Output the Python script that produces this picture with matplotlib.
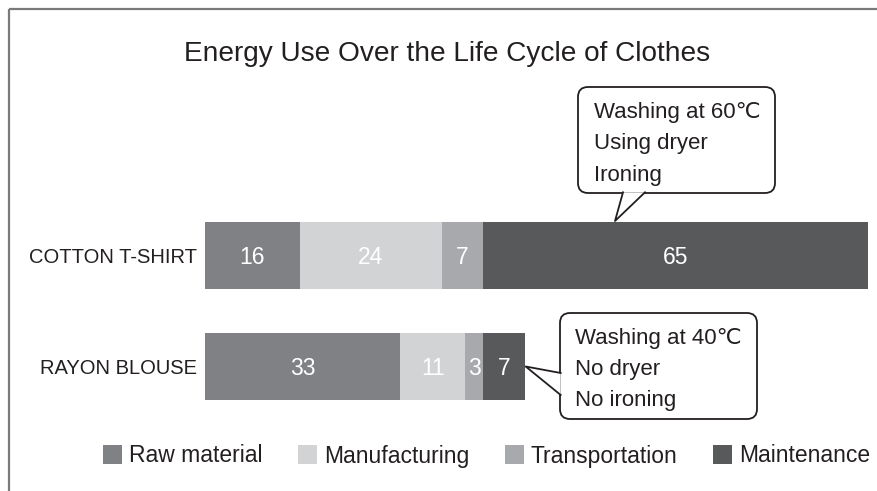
import matplotlib
matplotlib.use('Agg')
import matplotlib.pyplot as plt
import numpy as np
from matplotlib.patches import FancyBboxPatch, Polygon, Patch

# ---------------- data ----------------
categories = ['RAYON BLOUSE', 'COTTON T-SHIRT']
stages = ['Raw material', 'Manufacturing', 'Transportation', 'Maintenance']
raw_material = [33, 16]
manufacturing = [11, 24]
transportation = [3, 7]
maintenance = [7, 65]
colors = ['#808184', '#d1d3d4', '#a7a9ac', '#58595b']
title = 'Energy Use Over the Life Cycle of Clothes'
cotton_notes = ['Washing at 60℃', 'Using dryer', 'Ironing']
rayon_notes = ['Washing at 40℃', 'No dryer', 'No ironing']

W, H = 877, 491
fig = plt.figure(figsize=(W / 100, H / 100), dpi=100)

BASE = ['Liberation Sans', 'DejaVu Sans']
TXT = '#231f20'

series = [raw_material, manufacturing, transportation, maintenance]
totals = np.sum(series, axis=0)

# main axes
ax = fig.add_axes([205 / W, (H - 400) / H, 663 / W, 178 / H])
bar_h = 0.604
ypos = np.arange(len(categories))
left = np.zeros(len(categories))
for vals, col, name in zip(series, colors, stages):
    ax.barh(ypos, vals, left=left, height=bar_h, color=col, label=name, linewidth=0)
    for y, v, l in zip(ypos, vals, left):
        ax.annotate(str(v), (l + v / 2, y), xytext=(0, -5.8), textcoords='offset points',
                    ha='center', va='baseline', color='white', fontsize=16.5, family=BASE)
    left = left + np.array(vals)

ax.set_xlim(0, totals.max())
ax.set_ylim(-bar_h / 2, 1 + bar_h / 2)
ax.set_yticks(ypos, categories)
ax.tick_params(axis='y', length=0, pad=6)
for lab in ax.get_yticklabels():
    lab.set_fontsize(14.5)
    lab.set_family(BASE)
    lab.set_color(TXT)
ax.set_xticks([])
for s in ax.spines.values():
    s.set_visible(False)

# overlay axes in pixel coordinates
ov = fig.add_axes([0, 0, 1, 1], zorder=5)
ov.set_xlim(0, W)
ov.set_ylim(H, 0)
ov.axis('off')
ov.patch.set_alpha(0)

# frame lines
ov.plot([8.5, W], [8.5, 8.5], color='#7a7a7a', lw=1.6, solid_capstyle='butt')
ov.plot([8.5, 8.5], [8.5, H], color='#7a7a7a', lw=1.6, solid_capstyle='butt')

# title
ov.text(447.5, 61, title, ha='center', va='baseline', fontsize=20.2,
        family=BASE, color=TXT)


def to_px(x, y):
    px, py = ax.transData.transform((x, y))
    return px, H - py


def callout(x0, y0, x1, y1, base1, base2, tip, lines, tx, baselines):
    box = FancyBboxPatch((x0, y0), x1 - x0, y1 - y0,
                         boxstyle='round,pad=0,rounding_size=10',
                         facecolor='white', edgecolor=TXT, lw=1.3, zorder=2)
    ov.add_patch(box)
    ov.add_patch(Polygon([base1, base2, tip], closed=True, facecolor='white',
                         edgecolor='none', zorder=3))
    ov.plot([base1[0], tip[0], base2[0]], [base1[1], tip[1], base2[1]],
            color=TXT, lw=1.3, zorder=4)
    for t, b in zip(lines, baselines):
        ov.text(tx, b, t, ha='left', va='baseline', fontsize=16,
                family=BASE, color=TXT, zorder=5)


# cotton callout: tail points at the top of the cotton bar
ctip_x, ctip_y = to_px(0, 1 + bar_h / 2)
callout(578, 87, 775, 193, (623, 192.3), (645, 192.3), (615, ctip_y - 1),
        cotton_notes, 594, [118, 149.5, 181])

# rayon callout: tail points at the end of the rayon bar
rtip_x, rtip_y = to_px(totals[0], 0)
callout(560, 313, 757, 419, (560.7, 373), (560.7, 395), (rtip_x + 1, rtip_y),
        rayon_notes, 575, [344, 375, 406])

# legend
handles = [Patch(facecolor=c, edgecolor='none', label=s) for c, s in zip(colors, stages)]
fig.legend(handles=handles, loc='center', bbox_to_anchor=(486.5 / W, 1 - 456 / H),
           ncol=4, frameon=False, prop={'family': BASE, 'size': 16.5},
           handlelength=0.83, handleheight=0.9, handletextpad=0.3, columnspacing=1.55,
           borderpad=0, labelcolor=TXT)

fig.savefig('out.png', dpi=100)
